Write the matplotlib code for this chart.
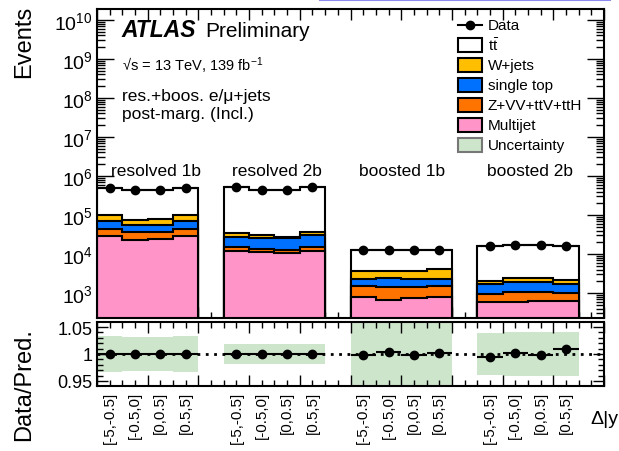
import numpy as np
import matplotlib
matplotlib.use("Agg")
import matplotlib.pyplot as plt
from matplotlib.ticker import MultipleLocator, FixedLocator, NullFormatter, FixedFormatter
from matplotlib.patches import Rectangle
from matplotlib.lines import Line2D
import matplotlib.transforms as mtransforms

plt.rcParams['font.family'] = ['Liberation Sans', 'DejaVu Sans']
plt.rcParams['mathtext.fontset'] = 'custom'
plt.rcParams['mathtext.rm'] = 'Liberation Sans'
plt.rcParams['mathtext.it'] = 'Liberation Sans:italic'
plt.rcParams['mathtext.bf'] = 'Liberation Sans:bold'

# ---------------- data ----------------
regions = ["resolved 1b", "resolved 2b", "boosted 1b", "boosted 2b"]
bin_labels = ["[-5,-0.5]", "[-0.5,0]", "[0,0.5]", "[0.5,5]"]

# per-region, per-bin component yields (stack order bottom -> top)
multijet = [[29000, 23000, 24000, 29000],
            [12000, 11000, 10500, 12000],
            [780, 670, 745, 780],
            [577, 577, 623, 623]]
zvv = [[15000, 13000, 13000, 15000],
       [3500, 2500, 2500, 3500],
       [710, 730, 655, 760],
       [363, 463, 417, 357]]
single_top = [[27000, 20000, 20000, 27000],
              [12500, 11500, 12000, 15500],
              [790, 1000, 880, 760],
              [760, 910, 910, 720]]
wjets = [[31000, 20000, 21000, 31000],
         [7000, 6000, 3000, 6000],
         [1420, 1200, 1320, 1800],
         [370, 430, 430, 450]]
ttbar = [[388000, 354000, 352000, 388000],
         [475000, 419000, 422000, 473000],
         [9300, 9400, 9400, 8900],
         [13830, 14620, 14620, 14050]]
ratio = [[1.000, 1.000, 1.000, 1.000],
         [1.000, 1.000, 1.000, 1.000],
         [0.998, 1.004, 0.998, 1.002],
         [0.994, 1.002, 0.998, 1.009]]
rel_unc = [[0.033, 0.031, 0.031, 0.033],
           [0.018, 0.018, 0.018, 0.019],
           [0.080, 0.080, 0.080, 0.080],
           [0.039, 0.040, 0.040, 0.040]]
decades = [3, 4, 5, 6, 7, 8, 9, 10]
ratio_ticks = [0.95, 1.0, 1.05]
ratio_tick_labels = ["0.95", "1", "1.05"]

comp_colors = ["#ff94c8", "#ff7300", "#0070ff", "#ffbe00", "#ffffff"]
unc_color = "#cde5cb"

W, H = 619, 452
fig = plt.figure(figsize=(W / 100, H / 100), dpi=100)

def fx(px):
    return px / W

def fy(py):
    return 1 - py / H

ax = fig.add_axes([fx(97), fy(319), fx(604) - fx(97), fy(10) - fy(319)])
rax = fig.add_axes([fx(97), fy(387), fx(604) - fx(97), fy(323) - fy(387)])

lw = 1.5
for g in range(4):
    edges = np.arange(5 * g, 5 * g + 5)
    comps = [np.array(multijet[g], float), np.array(zvv[g], float),
             np.array(single_top[g], float), np.array(wjets[g], float),
             np.array(ttbar[g], float)]
    cum = np.cumsum(comps, axis=0)
    for k in range(4, -1, -1):
        ax.stairs(cum[k], edges, baseline=1, fill=True, facecolor=comp_colors[k],
                  edgecolor='black', linewidth=lw, zorder=2 + (4 - k) * 0.1)
    total = cum[4]
    r = np.array(ratio[g])
    data = total * r
    centers = edges[:-1] + 0.5
    ax.errorbar(centers, data, xerr=0.5, fmt='o', color='black', ms=6, lw=1.5,
                capsize=0, zorder=5)
    # ratio panel
    u = np.array(rel_unc[g])
    rax.bar(centers, 2 * u, bottom=1 - u, width=1.0, color=unc_color,
            edgecolor='none', zorder=1)
    rax.errorbar(centers, r, xerr=0.5, fmt='o', color='black', ms=6, lw=1.5,
                 capsize=0, zorder=5)

rax.axhline(1.0, color='black', lw=2.0, ls=(0, (1, 2)), zorder=4)

# axes styling
for a in (ax, rax):
    a.set_xlim(0, 20)
    a.xaxis.set_major_locator(MultipleLocator(2))
    a.xaxis.set_minor_locator(MultipleLocator(0.5))
    a.xaxis.set_major_formatter(NullFormatter())
    a.tick_params(which='both', direction='in', top=True, right=True, width=1.0)
    a.tick_params(which='major', length=8)
    a.tick_params(which='minor', length=4)
    for s in a.spines.values():
        s.set_linewidth(1.5)

ax.set_yscale('log')
ax.set_ylim(10 ** 2.36, 10 ** 10.28)
ax.yaxis.set_major_locator(FixedLocator([10.0 ** d for d in decades]))
ax.yaxis.set_major_formatter(FixedFormatter([f"$10^{{{d}}}$" for d in decades]))
minor_pos = [m * 10.0 ** d for d in [2] + decades for m in range(2, 10)]
minor_pos = [p for p in minor_pos if 10 ** 2.36 < p < 10 ** 10.28]
ax.yaxis.set_minor_locator(FixedLocator(minor_pos))
ax.yaxis.set_minor_formatter(NullFormatter())
ax.tick_params(axis='y', which='major', length=12, labelsize=14, pad=3)
ax.tick_params(axis='y', which='minor', length=6)

rax.set_ylim(0.9406, 1.0594)
rax.yaxis.set_major_locator(FixedLocator(ratio_ticks))
rax.yaxis.set_major_formatter(FixedFormatter(ratio_tick_labels))
rax.yaxis.set_minor_locator(MultipleLocator(0.01))
rax.yaxis.set_minor_formatter(NullFormatter())
rax.tick_params(axis='y', which='major', labelsize=13, pad=3)

# rotated bin labels
trans = mtransforms.blended_transform_factory(rax.transData, rax.transAxes)
for g in range(4):
    for i, lab in enumerate(bin_labels):
        rax.text(5 * g + i + 0.5, -0.08, lab, transform=trans, rotation=90,
                 ha='center', va='top', fontsize=11)

fig.text(fx(590), fy(420), "Δ|y|", fontsize=14, ha='left', va='center')

# axis titles
fig.text(fx(24), fy(6), "Events", rotation=90, ha='center', va='top', fontsize=17)
fig.text(fx(24), fy(385), "Data/Pred.", rotation=90, ha='center', va='center', fontsize=17)

# labels
fig.text(fx(121), fy(37), "ATLAS", fontsize=16.5, weight='bold', style='italic', va='baseline')
fig.text(fx(205), fy(37), "Preliminary", fontsize=15, va='baseline')
fig.text(fx(122), fy(71), "√s = 13 TeV, 139 fb$^{-1}$", fontsize=10.5, va='baseline')
fig.text(fx(122), fy(101), "res.+boos. e/μ+jets", fontsize=12.5, va='baseline')
fig.text(fx(122), fy(119), "post-marg. (Incl.)", fontsize=12.5, va='baseline')

region_x = [156, 277, 402, 530]
for name, xp in zip(regions, region_x):
    fig.text(fx(xp), fy(172), name, fontsize=12.5, ha='center', va='center')

# legend (manual)
leg_names = ["Data", r"$\mathrm{t\bar{t}}$", "W+jets", "single top",
             "Z+VV+ttV+ttH", "Multijet", "Uncertainty"]
leg_y = [26, 46, 66, 86, 106, 126, 146]
fig.add_artist(Line2D([fx(458), fx(482)], [fy(26), fy(26)], color='black', lw=1.5))
fig.add_artist(Line2D([fx(470)], [fy(26)], color='black', marker='o', ms=6, lw=0))
fill_cols = ["#ffffff", "#ffbe00", "#0070ff", "#ff7300", "#ff94c8", unc_color]
for yy, c in zip(leg_y[1:], fill_cols):
    ec = 'black' if c != unc_color else '#777777'
    fig.add_artist(Rectangle((fx(458), fy(yy + 7)), fx(482) - fx(458), fy(yy - 7) - fy(yy + 7),
                             facecolor=c, edgecolor=ec, lw=1.5, transform=fig.transFigure))
for yy, name in zip(leg_y, leg_names):
    fig.text(fx(488), fy(yy), name, fontsize=11, va='center', ha='left')

# thin blue line at top-right of the image
fig.add_artist(Line2D([fx(320), fx(610)], [fy(0.8), fy(0.8)], color='#8a8af0', lw=1.5))

fig.savefig("out.png", dpi=100)
